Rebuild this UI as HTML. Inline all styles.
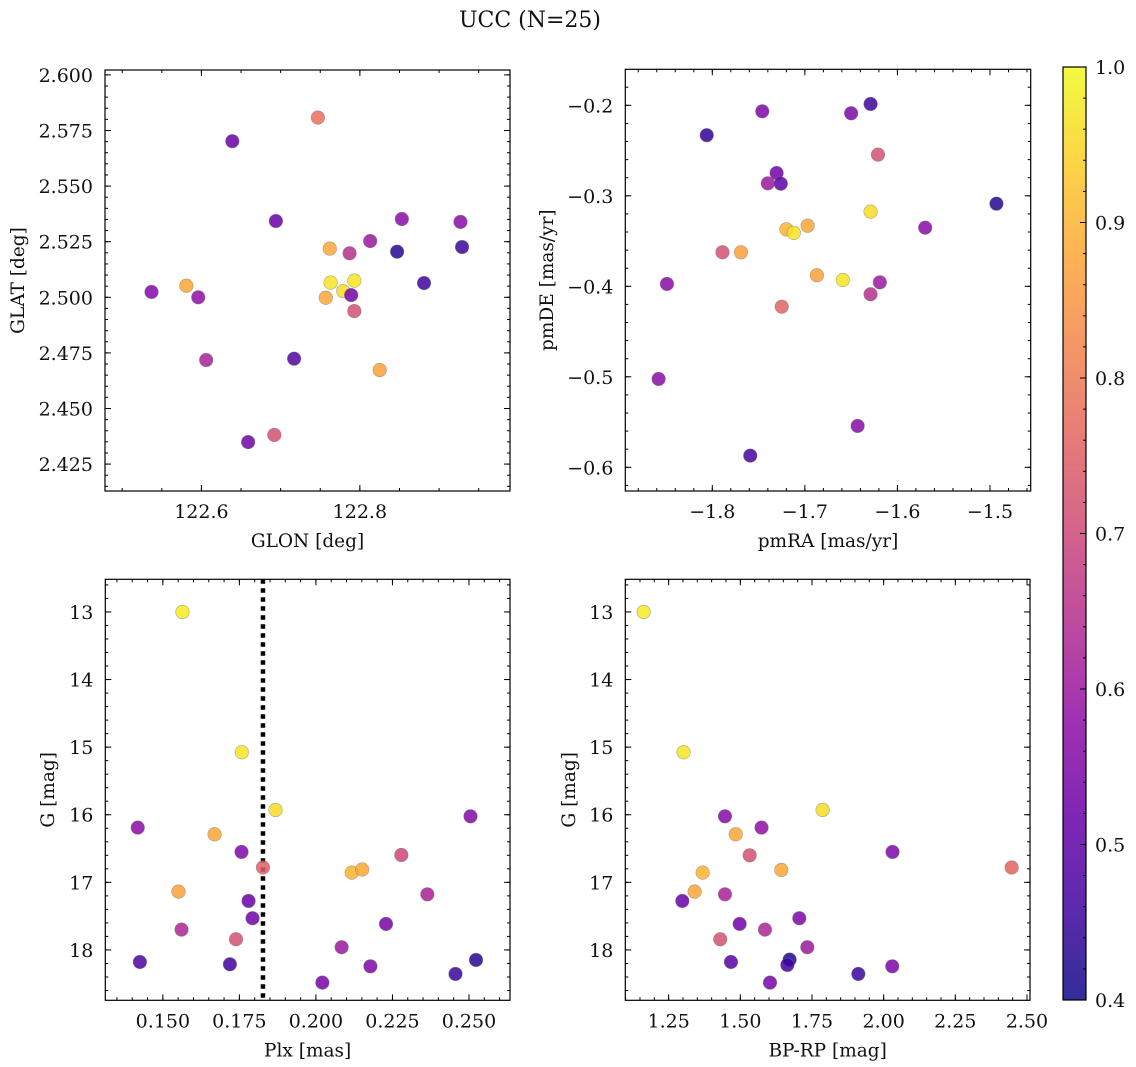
<!DOCTYPE html>
<html><head><meta charset="utf-8"><style>
html,body{margin:0;padding:0;background:#fff;}
svg{display:block;font-family:"DejaVu Serif","Liberation Serif",serif;}
</style></head><body>
<svg id="fig" width="1136" height="1067" viewBox="0 0 1136 1067" xmlns="http://www.w3.org/2000/svg">
<text x="530" y="27" font-size="22" text-anchor="middle" fill="#111">UCC (N=25)</text>
</svg>
<script>
// ---- data ----
const glon = [122.639,122.747,122.694,122.853,122.927,122.762,122.813,122.787,122.847,122.929,122.537,122.581,122.596,122.763,122.793,122.779,122.757,122.789,122.881,122.793,122.606,122.717,122.825,122.659,122.692];
const glat = [2.5702,2.5808,2.5343,2.5352,2.5339,2.5219,2.5253,2.5198,2.5205,2.5226,2.5024,2.5052,2.5000,2.5066,2.5075,2.5028,2.4998,2.5010,2.5064,2.4938,2.4718,2.4724,2.4673,2.4349,2.4381];
const probPos = [0.52,0.78,0.52,0.57,0.57,0.88,0.60,0.65,0.43,0.45,0.56,0.88,0.58,0.97,0.97,0.96,0.88,0.54,0.46,0.72,0.62,0.49,0.87,0.53,0.72];

const pmra = [-1.806,-1.746,-1.650,-1.629,-1.621,-1.7305,-1.740,-1.726,-1.493,-1.629,-1.570,-1.720,-1.712,-1.697,-1.789,-1.769,-1.687,-1.659,-1.619,-1.629,-1.849,-1.725,-1.858,-1.643,-1.759];
const pmde = [-0.233,-0.2066,-0.2088,-0.1985,-0.2545,-0.2748,-0.2862,-0.2866,-0.3087,-0.3175,-0.3352,-0.337,-0.341,-0.333,-0.3624,-0.3624,-0.3878,-0.393,-0.3956,-0.4088,-0.3974,-0.4225,-0.5024,-0.5543,-0.5871];
const probPm = [0.44,0.55,0.55,0.45,0.72,0.53,0.60,0.50,0.43,0.96,0.57,0.90,0.97,0.88,0.72,0.87,0.87,0.97,0.60,0.65,0.57,0.76,0.57,0.57,0.47];

const plx = [0.1564,0.1758,0.1868,0.1418,0.2505,0.1669,0.1757,0.1827,0.2117,0.2151,0.2279,0.1551,0.2364,0.1780,0.1793,0.1561,0.2229,0.1739,0.2084,0.1425,0.1719,0.2178,0.2021,0.2456,0.2523];
const gPlx = [13.0,15.076,15.929,16.19,16.023,16.289,16.55,16.78,16.856,16.81,16.595,17.137,17.177,17.275,17.531,17.699,17.615,17.842,17.96,18.178,18.212,18.242,18.483,18.355,18.148];
const probPlx = [0.98,0.97,0.96,0.57,0.56,0.88,0.55,0.75,0.90,0.88,0.70,0.87,0.62,0.52,0.53,0.63,0.54,0.72,0.60,0.48,0.46,0.55,0.54,0.45,0.43];
const plxLine = 0.1827;

const bprp = [1.163,1.302,1.787,1.4465,1.574,1.484,1.5326,2.031,2.4465,1.643,1.3686,1.3407,1.4465,1.2977,1.7058,1.4977,1.586,1.430,1.7337,1.4674,1.672,1.664,2.030,1.6035,1.9116];
const gCmd = [13.0,15.076,15.929,16.023,16.19,16.289,16.6,16.55,16.78,16.817,16.856,17.137,17.177,17.275,17.531,17.615,17.699,17.842,17.96,18.178,18.143,18.222,18.242,18.483,18.355];
const probCmd = [0.98,0.97,0.96,0.56,0.58,0.88,0.72,0.55,0.76,0.88,0.90,0.88,0.62,0.52,0.55,0.53,0.63,0.72,0.60,0.49,0.42,0.46,0.55,0.54,0.45];

const tlXTicks = [122.6,122.8];
const tlYTicks = [2.425,2.450,2.475,2.500,2.525,2.550,2.575,2.600];
const trXTicks = [-1.8,-1.7,-1.6,-1.5];
const trYTicks = [-0.6,-0.5,-0.4,-0.3,-0.2];
const blXTicks = [0.150,0.175,0.200,0.225,0.250];
const gTicks = [13,14,15,16,17,18];
const brXTicks = [1.25,1.50,1.75,2.00,2.25,2.50];
const cbTicks = [0.4,0.5,0.6,0.7,0.8,0.9,1.0];

// ---- helpers ----
const NS = "http://www.w3.org/2000/svg";
const svg = document.getElementById('fig');
function mk(tag, attrs, parent){
  const e = document.createElementNS(NS, tag);
  for (const k in attrs) e.setAttribute(k, attrs[k]);
  (parent||svg).appendChild(e);
  return e;
}
const plasma = [[13,8,135],[65,4,157],[106,0,168],[143,13,164],[177,42,144],[204,71,120],[225,100,98],[242,132,75],[252,166,54],[252,206,37],[240,249,33]];
function cmap(v){
  let t = (v-0.4)/0.6; t = Math.max(0,Math.min(1,t));
  const f = t*10, i = Math.min(9, Math.floor(f)), r = f-i;
  const a = plasma[i], b = plasma[i+1];
  return 'rgb('+a.map((c,k)=>Math.round(c+(b[k]-c)*r)).join(',')+')';
}
function fmtMinus(s){ return s.replace('-', '\u2212'); }

function panel(cfg){
  const g = mk('g', {});
  
  
  const L=cfg.x0, R=cfg.x1, T=cfg.y0, B=cfg.y1;
  const sx = v => L + (v-cfg.xd[0])/(cfg.xd[1]-cfg.xd[0])*(R-L);
  const sy = cfg.yinv ? (v => T + (v-cfg.yd[0])/(cfg.yd[1]-cfg.yd[0])*(B-T))
                      : (v => B - (v-cfg.yd[0])/(cfg.yd[1]-cfg.yd[0])*(B-T));
  const ticks = mk('g', {stroke:'#000','stroke-width':1}, g);
  
  
  const xlo = Math.min(...cfg.xd), xhi = Math.max(...cfg.xd);
  for (let v = Math.ceil(xlo/cfg.xm-1e-6)*cfg.xm; v <= xhi+1e-9; v += cfg.xm){
    const x = sx(v);
    mk('line',{x1:x,x2:x,y1:B,y2:B-3},ticks); mk('line',{x1:x,x2:x,y1:T,y2:T+3},ticks);
  }
  const ylo = Math.min(...cfg.yd), yhi = Math.max(...cfg.yd);
  for (let v = Math.ceil(ylo/cfg.ym-1e-6)*cfg.ym; v <= yhi+1e-9; v += cfg.ym){
    const y = sy(v);
    mk('line',{x1:L,x2:L+3,y1:y,y2:y},ticks); mk('line',{x1:R,x2:R-3,y1:y,y2:y},ticks);
  }
  cfg.xt.forEach(v=>{
    const x = sx(v);
    mk('line',{x1:x,x2:x,y1:B,y2:B-6},ticks); mk('line',{x1:x,x2:x,y1:T,y2:T+6},ticks);
    const t = mk('text',{x:x,y:B+27,'font-size':19,'text-anchor':'middle',fill:'#111'},g);
    
    
    t.textContent = fmtMinus(v.toFixed(cfg.xdec));
  });
  cfg.yt.forEach(v=>{
    const y = sy(v);
    mk('line',{x1:L,x2:L+6,y1:y,y2:y},ticks); mk('line',{x1:R,x2:R-6,y1:y,y2:y},ticks);
    const t = mk('text',{x:L-12,y:y+7,'font-size':19,'text-anchor':'end',fill:'#111'},g);
    
    
    t.textContent = fmtMinus(v.toFixed(cfg.ydec));
  });
  if (cfg.vline !== undefined){
    const x = sx(cfg.vline);
    const ln = mk('line',{x1:x,x2:x,y1:T,y2:B,stroke:'#000','stroke-width':4.5,'stroke-dasharray':'4.5,4.5'},g);
    
    
  }
  cfg.xs.forEach((v,i)=>{
    const c = mk('circle',{cx:sx(v),cy:sy(cfg.ys[i]),r:6.8,fill:cmap(cfg.c[i]),'fill-opacity':0.85,stroke:'#777','stroke-opacity':0.6,'stroke-width':0.6},g);
    
    
  });
  const fr = mk('rect',{x:L,y:T,width:R-L,height:B-T,fill:'none',stroke:'#000','stroke-width':1.2},g);
  
  
  const xl = mk('text',{x:(L+R)/2,y:B+56,'font-size':18.5,'text-anchor':'middle',fill:'#111'},g);
  
  
  xl.textContent = cfg.xl;
  const yx = cfg.ylx, yy = (T+B)/2;
  const yl = mk('text',{x:yx,y:yy,'font-size':18.5,'text-anchor':'middle',fill:'#111',transform:'rotate(-90 '+yx+' '+yy+')'},g);
  
  
  yl.textContent = cfg.yl;
}

panel({name:'glon-glat-panel',x0:105,x1:510,y0:70,y1:491,xd:[122.4783,122.9895],yd:[2.4129,2.6022],xt:tlXTicks,yt:tlYTicks,xm:0.05,ym:0.005,xdec:1,ydec:3,xs:glon,ys:glat,c:probPos,xl:'GLON [deg]',yl:'GLAT [deg]',ylx:24});
panel({name:'pm-panel',x0:625.3,x1:1030.7,y0:69.3,y1:491,xd:[-1.894,-1.456],yd:[-0.6262,-0.1602],xt:trXTicks,yt:trYTicks,xm:0.02,ym:0.02,xdec:1,ydec:1,xs:pmra,ys:pmde,c:probPm,xl:'pmRA [mas/yr]',yl:'pmDE [mas/yr]',ylx:553});
panel({name:'plx-g-panel',x0:105.3,x1:510,y0:579.3,y1:1000.3,xd:[0.1312,0.2634],yd:[12.517,18.745],yinv:true,xt:blXTicks,yt:gTicks,xm:0.005,ym:0.2,xdec:3,ydec:0,xs:plx,ys:gPlx,c:probPlx,xl:'Plx [mas]',yl:'G [mag]',ylx:54,vline:plxLine});
panel({name:'cmd-panel',x0:625.3,x1:1030,y0:579.3,y1:1000.3,xd:[1.0988,2.5105],yd:[12.517,18.745],yinv:true,xt:brXTicks,yt:gTicks,xm:0.05,ym:0.2,xdec:2,ydec:0,xs:bprp,ys:gCmd,c:probCmd,xl:'BP-RP [mag]',yl:'G [mag]',ylx:575});

// ---- colorbar ----
(function(){
  const L=1063, R=1086, T=67, B=1000;
  const g = mk('g',{});
  
  
  const defs = mk('defs',{},g);
  const lg = mk('linearGradient',{id:'cbg',x1:0,y1:1,x2:0,y2:0},defs);
  for (let i=0;i<=20;i++){
    mk('stop',{offset:(i/20),'stop-color':cmap(0.4+0.6*i/20),'stop-opacity':0.85},lg);
  }
  mk('rect',{x:L,y:T,width:R-L,height:B-T,fill:'url(#cbg)',stroke:'#000','stroke-width':1.2},g);
  const sy = v => B - (v-0.4)/0.6*(B-T);
  for (let v=0.4; v<=1.0001; v+=0.02){
    const y=sy(v);
    mk('line',{x1:R,x2:R-3,y1:y,y2:y,stroke:'#000','stroke-width':1},g);
  }
  cbTicks.forEach(v=>{
    const y=sy(v);
    mk('line',{x1:R,x2:R-6,y1:y,y2:y,stroke:'#000','stroke-width':1},g);
    const t = mk('text',{x:R+9,y:y+7,'font-size':19,fill:'#111'},g);
    
    
    t.textContent = v.toFixed(1);
  });
})();
</script>
</body></html>
